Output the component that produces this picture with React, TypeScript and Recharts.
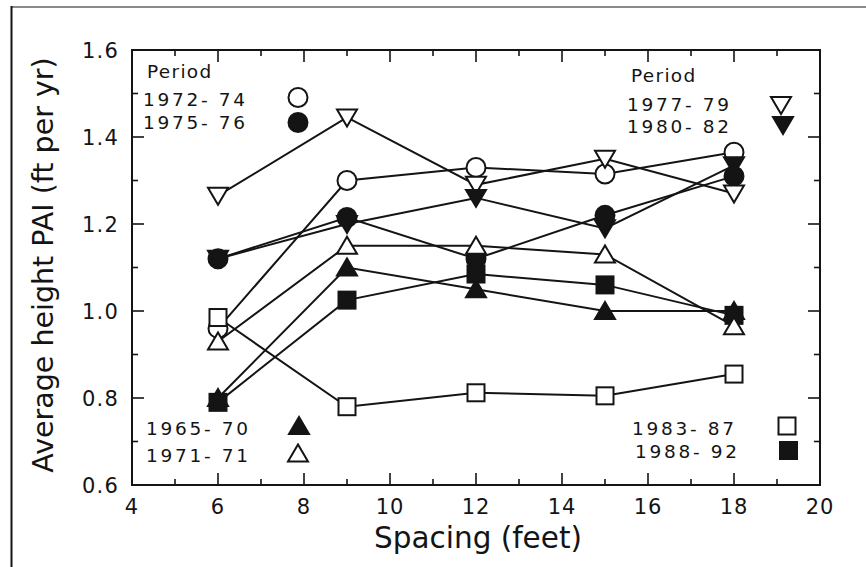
import React from "react";
import { LineChart, Line, XAxis, YAxis, ReferenceArea } from "recharts";

// spacing in feet
const spacing = [6, 9, 12, 15, 18];

// average height PAI (ft per yr) per period
const p1965_70 = [0.8, 1.1, 1.05, 1.0, 1.0];
const p1971_71 = [0.93, 1.15, 1.15, 1.13, 0.965];
const p1972_74 = [0.96, 1.3, 1.33, 1.315, 1.365];
const p1975_76 = [1.12, 1.215, 1.12, 1.22, 1.31];
const p1977_79 = [1.265, 1.445, 1.29, 1.35, 1.27];
const p1980_82 = [1.12, 1.2, 1.26, 1.19, 1.335];
const p1983_87 = [0.985, 0.78, 0.812, 0.805, 0.855];
const p1988_92 = [0.79, 1.025, 1.085, 1.06, 0.99];

const xTicks = [4, 5, 6, 7, 8, 9, 10, 11, 12, 13, 14, 15, 16, 17, 18, 19, 20];
const yTicks = [0.6, 0.7, 0.8, 0.9, 1.0, 1.1, 1.2, 1.3, 1.4, 1.5, 1.6];

const PLOT = { left: 132, right: 820, top: 50, bottom: 485 };
const INK = "#141414";
const FONT = "'DejaVu Sans', sans-serif";

type Kind = "circle" | "triUp" | "triDown" | "square";

const series = [
  { key: "p1972_74", name: "1972- 74", values: p1972_74, kind: "circle" as Kind, filled: false },
  { key: "p1975_76", name: "1975- 76", values: p1975_76, kind: "circle" as Kind, filled: true },
  { key: "p1977_79", name: "1977- 79", values: p1977_79, kind: "triDown" as Kind, filled: false },
  { key: "p1980_82", name: "1980- 82", values: p1980_82, kind: "triDown" as Kind, filled: true },
  { key: "p1983_87", name: "1983- 87", values: p1983_87, kind: "square" as Kind, filled: false },
  { key: "p1988_92", name: "1988- 92", values: p1988_92, kind: "square" as Kind, filled: true },
  { key: "p1965_70", name: "1965- 70", values: p1965_70, kind: "triUp" as Kind, filled: true },
  { key: "p1971_71", name: "1971- 71", values: p1971_71, kind: "triUp" as Kind, filled: false },
];

const data = spacing.map((s, i) => {
  const row: any = { spacing: s };
  series.forEach((sr) => {
    row[sr.key] = sr.values[i];
  });
  return row;
});

const Marker = ({ cx, cy, kind, filled }: { cx: number; cy: number; kind: Kind; filled: boolean }) => {
  const fill = filled ? INK : "#fff";
  const common = { fill, stroke: INK, strokeWidth: 2 };
  if (kind === "circle") return <circle cx={cx} cy={cy} r={9.5} {...common} />;
  if (kind === "square") return <rect x={cx - 8.5} y={cy - 8.5} width={17} height={17} {...common} />;
  if (kind === "triUp")
    return <polygon points={`${cx - 10},${cy + 8} ${cx + 10},${cy + 8} ${cx},${cy - 9}`} {...common} strokeLinejoin="miter" />;
  return <polygon points={`${cx - 10},${cy - 8} ${cx + 10},${cy - 8} ${cx},${cy + 9}`} {...common} strokeLinejoin="miter" />;
};

const XTick = (props: any) => {
  const { x, payload } = props;
  const v = payload.value;
  const major = v % 2 === 0;
  const len = major ? 12 : 6;
  return (
    <g>
      {v !== 4 && v !== 20 && (
        <>
          <line x1={x} x2={x} y1={PLOT.bottom} y2={PLOT.bottom - len} stroke={INK} strokeWidth={1.6} />
          <line x1={x} x2={x} y1={PLOT.top} y2={PLOT.top + len} stroke={INK} strokeWidth={1.6} />
        </>
      )}
      {major && (
        <text x={x} y={514} textAnchor="middle" fontFamily={FONT} fontSize={21} letterSpacing={1} fill={INK}>
          {v}
        </text>
      )}
    </g>
  );
};

const YTick = (props: any) => {
  const { y, payload } = props;
  const v = payload.value;
  const major = Math.round(v * 10) % 2 === 0;
  const len = major ? 12 : 6;
  return (
    <g>
      {v !== 0.6 && v !== 1.6 && (
        <>
          <line x1={PLOT.left} x2={PLOT.left + len} y1={y} y2={y} stroke={INK} strokeWidth={1.6} />
          <line x1={PLOT.right} x2={PLOT.right - len} y1={y} y2={y} stroke={INK} strokeWidth={1.6} />
        </>
      )}
      {major && (
        <text x={119} y={y + 7.5} textAnchor="end" fontFamily={FONT} fontSize={21} letterSpacing={1.2} fill={INK}>
          {v.toFixed(1)}
        </text>
      )}
    </g>
  );
};

const legendText = { fontFamily: FONT, fontSize: 18.5, letterSpacing: 2.7, fill: INK };

export default function App() {
  return (
    <div style={{ position: "absolute", left: 0, top: 0, width: 866, height: 567, background: "#fff" }}>
      <LineChart width={866} height={567} data={data} margin={{ top: 50, right: 46, bottom: 12, left: 12 }}>
        <XAxis
          dataKey="spacing"
          type="number"
          domain={[4, 20]}
          ticks={xTicks}
          interval={0}
          height={70}
          axisLine={false}
          tickLine={false}
          tick={<XTick />}
        />
        <YAxis
          type="number"
          domain={[0.6, 1.6]}
          ticks={yTicks}
          interval={0}
          width={120}
          axisLine={false}
          tickLine={false}
          tick={<YTick />}
        />
        <ReferenceArea x1={4} x2={20} y1={0.6} y2={1.6} fill="none" stroke={INK} strokeWidth={2} fillOpacity={0} />
        {series.map((sr) => (
          <Line
            key={sr.key}
            dataKey={sr.key}
            stroke={INK}
            strokeWidth={2}
            isAnimationActive={false}
            dot={(p: any) => <Marker key={`${sr.key}-${p.index}`} cx={p.cx} cy={p.cy} kind={sr.kind} filled={sr.filled} />}
            activeDot={false}
          />
        ))}
      </LineChart>
      <svg width={866} height={567} style={{ position: "absolute", left: 0, top: 0, pointerEvents: "none" }}>
        <line x1={11} x2={866} y1={7} y2={7} stroke="#8a8a8a" strokeWidth={2} />
        <line x1={11.5} x2={11.5} y1={6} y2={567} stroke={INK} strokeWidth={2} />
        <text x={478} y={548} textAnchor="middle" fontFamily={FONT} fontSize={29.5} fill={INK}>
          Spacing (feet)
        </text>
        <text x={53} y={265} textAnchor="middle" fontFamily={FONT} fontSize={28.5} fill={INK} transform="rotate(-90 53 265)">
          Average height PAI (ft per yr)
        </text>

        <text x={147} y={78} {...legendText} letterSpacing={1.3}>Period</text>
        <text x={143} y={106} {...legendText}>1972- 74</text>
        <text x={143} y={129} {...legendText}>1975- 76</text>
        <Marker cx={298} cy={97.5} kind="circle" filled={false} />
        <Marker cx={298} cy={122.5} kind="circle" filled={true} />

        <text x={631} y={82} {...legendText} letterSpacing={1.3}>Period</text>
        <text x={627} y={111} {...legendText}>1977- 79</text>
        <text x={627} y={133} {...legendText}>1980- 82</text>
        <Marker cx={781} cy={105} kind="triDown" filled={false} />
        <Marker cx={783} cy={125} kind="triDown" filled={true} />

        <text x={146} y={435} {...legendText}>1965- 70</text>
        <text x={146} y={462} {...legendText}>1971- 71</text>
        <Marker cx={299} cy={426} kind="triUp" filled={true} />
        <Marker cx={298} cy={453.5} kind="triUp" filled={false} />

        <text x={632} y={435} {...legendText}>1983- 87</text>
        <text x={635} y={458} {...legendText}>1988- 92</text>
        <Marker cx={787} cy={426} kind="square" filled={false} />
        <Marker cx={788.5} cy={450.5} kind="square" filled={true} />
      </svg>
    </div>
  );
}
